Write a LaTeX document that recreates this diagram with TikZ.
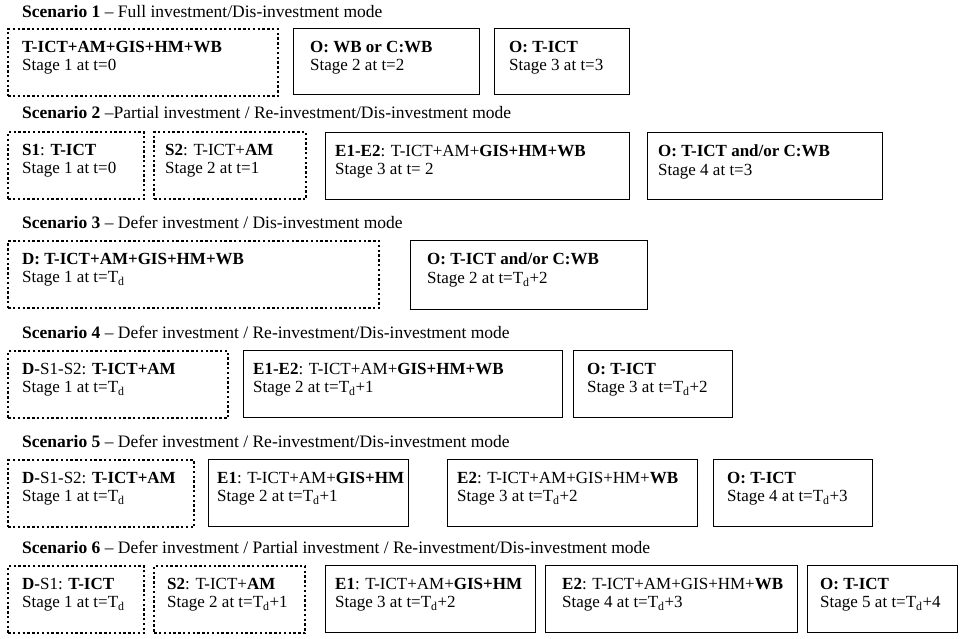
\documentclass[tikz,border=0pt]{standalone}
\usepackage{fontspec}
\setmainfont{Liberation Serif}
\tikzset{%
    Sfont/.style={font=\fontsize{17}{18.5}\selectfont},
    Sbox/.style={shape=rectangle, draw, line width=1.1pt, anchor=north west, inner sep=0pt},
    Sdefer/.style={Sbox, line width=2.4pt, dash pattern=on 2.4pt off 2.4pt},
    Stext/.style={Sfont, anchor=north west, align=left, inner sep=0pt},
    Stitle/.style={font=\fontsize{17.5}{18.5}\selectfont, anchor=west, inner sep=0pt}
}
\newcommand{\stagebox}[8]{
    % frame of the stage (#2,#3 = upper left corner, #4 x #5 = size)
    \node [#6, minimum width=#4, minimum height=#5] (#1) at (#2,#3) {};
    % label and time of the stage, #7 = left inset
    \node [Stext] (#1t) at ([shift={(#7,13)}]#1.north west) {#8};
}

\begin{document}
\begin{tikzpicture}[x=1pt,y=-1pt]
    \useasboundingbox (0,0) rectangle (962,639);

    % scenario headings
    \foreach \ty/\n/\txt in
            {12/1/{-- Full investment/Dis-investment mode},
             113/2/{--Partial investment / Re-investment/Dis-investment mode},
             222/3/{-- Defer investment / Dis-investment mode},
             332/4/{-- Defer investment / Re-investment/Dis-investment mode},
             441/5/{-- Defer investment / Re-investment/Dis-investment mode},
             547/6/{-- Defer investment / Partial investment / Re-investment/Dis-investment mode}}
        \node [Stitle] (title\n) at (22,\ty) {\textbf{Scenario \n} \txt};

    % scenario 1
    \stagebox{aS}{7}{28}{270}{67}{Sdefer}{15}{\textbf{T-ICT+AM+GIS+HM+WB}\\Stage 1 at t=0}
    \stagebox{aO}{293}{28}{186}{66}{Sbox}{17}{\textbf{O: WB or C:WB}\\Stage 2 at t=2}
    \stagebox{aOO}{494}{28}{135}{66}{Sbox}{15}{\textbf{O: T-ICT}\\Stage 3 at t=3}

    % scenario 2
    \stagebox{bS}{7}{131}{136}{67}{Sdefer}{15}{\textbf{S1}: \textbf{T-ICT}\\Stage 1 at t=0}
    \stagebox{bSS}{153}{131}{152}{67}{Sdefer}{12}{\textbf{S2}: T-ICT+\textbf{AM}\\Stage 2 at t=1}
    \stagebox{bE}{325}{132}{304}{67}{Sbox}{10}{\textbf{E1-E2}: T-ICT+AM+\textbf{GIS+HM+WB}\\Stage 3 at t= 2}
    \stagebox{bO}{647}{132}{235}{67}{Sbox}{11}{\textbf{O: T-ICT and/or C:WB}\\Stage 4 at t=3}

    % scenario 3
    \stagebox{cD}{7}{240}{371}{67}{Sdefer}{15}{\textbf{D: T-ICT+AM+GIS+HM+WB}\\Stage 1 at t=T\textsubscript{d}}
    \stagebox{cO}{410}{240}{237}{69}{Sbox}{17}{\textbf{O: T-ICT and/or C:WB}\\Stage 2 at t=T\textsubscript{d}+2}

    % scenario 4
    \stagebox{dD}{7}{350}{220}{67}{Sdefer}{15}{\textbf{D-}S1-S2: \textbf{T-ICT+AM}\\Stage 1 at t=T\textsubscript{d}}
    \stagebox{dE}{243}{350}{319}{67}{Sbox}{10}{\textbf{E1-E2}: T-ICT+AM+\textbf{GIS+HM+WB}\\Stage 2 at t=T\textsubscript{d}+1}
    \stagebox{dO}{573}{350}{159}{67}{Sbox}{14}{\textbf{O: T-ICT}\\Stage 3 at t=T\textsubscript{d}+2}

    % scenario 5
    \stagebox{eD}{7}{459}{186}{67}{Sdefer}{15}{\textbf{D-}S1-S2: \textbf{T-ICT+AM}\\Stage 1 at t=T\textsubscript{d}}
    \stagebox{eE}{208}{459}{200}{67}{Sbox}{9}{\textbf{E1}: T-ICT+AM+\textbf{GIS+HM}\\Stage 2 at t=T\textsubscript{d}+1}
    \stagebox{eEE}{447}{459}{250}{67}{Sbox}{10}{\textbf{E2}: T-ICT+AM+GIS+HM+\textbf{WB}\\Stage 3 at t=T\textsubscript{d}+2}
    \stagebox{eO}{713}{459}{159}{67}{Sbox}{14}{\textbf{O: T-ICT}\\Stage 4 at t=T\textsubscript{d}+3}

    % scenario 6
    \stagebox{fD}{7}{565}{136}{67}{Sdefer}{15}{\textbf{D-}S1: \textbf{T-ICT}\\Stage 1 at t=T\textsubscript{d}}
    \stagebox{fS}{153}{565}{151}{67}{Sdefer}{14}{\textbf{S2}: T-ICT+\textbf{AM}\\Stage 2 at t=T\textsubscript{d}+1}
    \stagebox{fE}{325}{565}{210}{67}{Sbox}{10}{\textbf{E1}: T-ICT+AM+\textbf{GIS+HM}\\Stage 3 at t=T\textsubscript{d}+2}
    \stagebox{fEE}{545}{565}{252}{67}{Sbox}{17}{\textbf{E2}: T-ICT+AM+GIS+HM+\textbf{WB}\\Stage 4 at t=T\textsubscript{d}+3}
    \stagebox{fO}{807}{565}{150}{67}{Sbox}{13}{\textbf{O: T-ICT}\\Stage 5 at t=T\textsubscript{d}+4}
\end{tikzpicture}
\end{document}
